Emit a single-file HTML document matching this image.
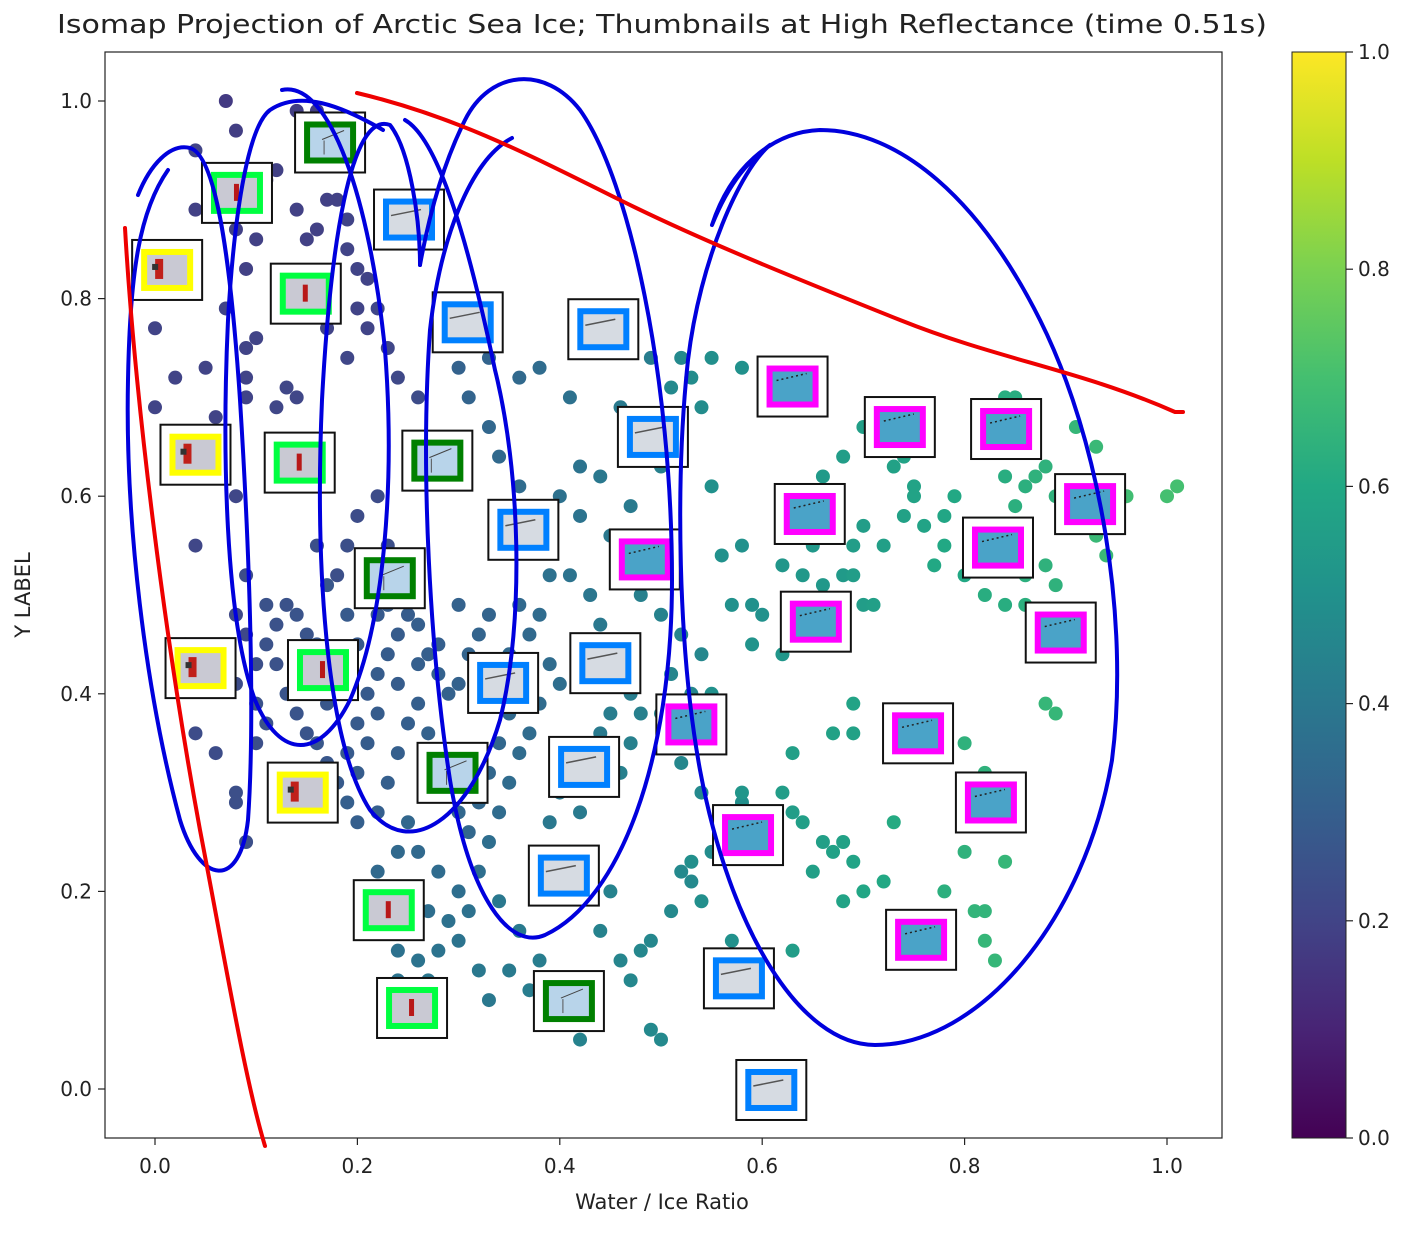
<!DOCTYPE html>
<html><head><meta charset="utf-8">
<style>
body{margin:0;background:#fff;}
svg text{font-family:"DejaVu Sans","Liberation Sans",sans-serif;fill:#222;}
</style></head>
<body>
<svg id="chart" width="1419" height="1229" xmlns="http://www.w3.org/2000/svg">
<defs>
<linearGradient id="vir" x1="0" y1="1" x2="0" y2="0">
<stop offset="0" stop-color="#440154"/><stop offset="0.1" stop-color="#482475"/><stop offset="0.2" stop-color="#414487"/><stop offset="0.3" stop-color="#355f8d"/><stop offset="0.4" stop-color="#2a788e"/><stop offset="0.5" stop-color="#21918c"/><stop offset="0.6" stop-color="#22a884"/><stop offset="0.7" stop-color="#44bf70"/><stop offset="0.8" stop-color="#7ad151"/><stop offset="0.9" stop-color="#bddf26"/><stop offset="1" stop-color="#fde725"/>
</linearGradient>
<clipPath id="plotclip"><rect x="105" y="52" width="1117" height="1086"/></clipPath>
</defs>
<text x="662" y="33" text-anchor="middle" font-size="26" textLength="1210" lengthAdjust="spacingAndGlyphs">Isomap Projection of Arctic Sea Ice; Thumbnails at High Reflectance (time 0.51s)</text>
<g id="points" clip-path="url(#plotclip)"></g>
<g id="thumbs"></g>
<rect x="105" y="52" width="1117" height="1086" fill="none" stroke="#222" stroke-width="1.2"/>
<g id="xticks"></g><g id="yticks"></g>
<text x="662" y="1209" text-anchor="middle" font-size="21">Water / Ice Ratio</text>
<text x="0" y="0" transform="translate(30,595) rotate(-90)" text-anchor="middle" font-size="21">Y LABEL</text>
<rect x="1292" y="52" width="54" height="1086" fill="url(#vir)" stroke="#222" stroke-width="1"/>
<g id="cticks"></g>
<g fill="none" stroke-width="4" stroke-linecap="round">
<path stroke="#0000dd" d="M138,195 C150,165 170,143 190,148 C215,155 230,250 240,400 C250,560 255,720 248,820 C240,890 200,885 180,820 C145,690 125,520 128,380 C130,270 140,210 168,170"/>
<path stroke="#0000dd" d="M282,90 C330,80 370,200 385,350 C395,480 385,620 350,700 C320,760 280,760 255,700 C225,620 222,450 228,320 C235,200 250,125 270,110 C300,90 340,105 383,130"/>
<path stroke="#0000dd" d="M420,265 C420,220 410,150 390,125 C350,110 330,250 322,400 C315,560 325,740 370,810 C410,860 470,820 500,720 C525,620 520,470 495,370 C470,250 440,140 405,120"/>
<path stroke="#0000dd" d="M512,138 C470,160 440,240 430,330 C420,470 430,650 450,780 C470,900 510,950 545,935 C620,900 672,760 672,580 C672,380 630,180 580,110 C545,65 490,70 465,120 C445,160 430,210 420,265"/>
<path stroke="#0000dd" d="M712,225 C730,180 750,160 770,145 M770,145 C740,170 700,260 688,360 C675,480 678,650 700,770 C730,930 800,1045 875,1045 C980,1045 1085,920 1112,760 C1130,620 1100,440 1040,320 C980,200 900,130 820,130 C770,132 730,170 712,225"/>
<path stroke="#ee0000" d="M125,228 C135,400 165,640 200,830 C225,960 245,1080 265,1146"/>
<path stroke="#ee0000" d="M357,93 C450,115 520,150 620,200 C700,240 800,280 900,320 C1000,360 1080,370 1175,412 L1183,412"/>
</g>
</svg>
<script>
const pts = [
[.07,1.0,.17],[.08,.97,.18],[.04,.95,.2],[.0,.77,.2],[.02,.72,.2],[.0,.69,.2],[.05,.73,.2],[.09,.72,.2],[.06,.68,.2],[.09,.70,.2],[.03,.62,.2],[.08,.60,.21],[.04,.55,.21],[.08,.48,.22],[.09,.46,.22],[.03,.45,.22],[.02,.44,.22],[.08,.41,.23],[.10,.35,.24],[.08,.30,.24],[.08,.29,.24],[.09,.25,.24],[.04,.36,.23],[.06,.34,.23],[.10,.43,.24],[.09,.52,.23],[.09,.83,.19],[.10,.86,.19],[.08,.87,.19],[.11,.92,.18],[.04,.89,.19],[.07,.79,.2],[.10,.76,.2],[.09,.75,.2],
[.12,.93,.19],[.14,.99,.18],[.16,.99,.18],[.17,.94,.18],[.14,.89,.19],[.15,.86,.19],[.16,.87,.19],[.17,.90,.19],[.18,.90,.19],[.19,.88,.2],[.19,.85,.2],[.20,.83,.2],[.21,.82,.2],[.20,.79,.2],[.21,.77,.2],[.17,.77,.2],[.13,.71,.21],[.14,.70,.21],[.12,.69,.21],[.19,.74,.21],[.22,.79,.21],[.23,.75,.21],[.24,.72,.22],[.26,.70,.23],[.22,.60,.23],[.20,.58,.23],[.23,.55,.24],[.19,.55,.24],[.16,.55,.24],[.18,.52,.24],
[.11,.49,.25],[.12,.47,.25],[.13,.49,.25],[.14,.48,.26],[.15,.46,.26],[.11,.45,.25],[.12,.43,.25],[.13,.40,.26],[.10,.39,.25],[.11,.37,.25],[.14,.38,.26],[.15,.36,.26],[.16,.35,.27],[.17,.33,.27],[.18,.31,.28],[.19,.34,.28],[.20,.37,.28],[.21,.40,.28],[.22,.42,.29],[.23,.44,.29],[.24,.46,.29],[.25,.48,.29],[.22,.48,.28],[.20,.45,.28],[.19,.43,.28],[.18,.40,.27],[.17,.39,.27],[.16,.45,.27],[.17,.51,.27],[.19,.48,.28],[.21,.50,.28],[.23,.49,.29],[.26,.47,.3],[.27,.44,.3],[.28,.42,.31],[.29,.40,.31],[.30,.41,.31],[.31,.44,.32],[.32,.46,.32],[.33,.48,.32],[.30,.49,.31],[.28,.45,.3],[.26,.43,.3],[.24,.41,.29],[.22,.38,.29],[.21,.35,.29],[.20,.32,.29],[.19,.29,.3],[.20,.27,.3],[.22,.28,.3],[.23,.31,.3],[.24,.34,.3],[.25,.37,.3],[.26,.39,.3],[.27,.36,.31],[.28,.34,.31],[.29,.31,.32],[.30,.28,.33],[.31,.26,.33],[.32,.29,.33],[.33,.32,.33],[.34,.35,.33],[.35,.38,.34],[.36,.40,.34],[.34,.41,.33],[.33,.43,.33],[.35,.44,.34],[.37,.46,.34],[.38,.48,.35],[.36,.49,.34],[.39,.43,.35],[.40,.41,.36],[.38,.39,.35],[.37,.36,.35],[.36,.34,.35],[.35,.31,.35],[.34,.28,.35],[.33,.25,.36],[.32,.22,.36],[.30,.20,.36],[.28,.22,.35],[.26,.24,.34],[.25,.27,.33],[.24,.24,.34],[.22,.22,.34],[.23,.20,.35],[.25,.19,.35],[.27,.18,.36],[.29,.17,.37],[.31,.18,.37],[.30,.15,.38],[.28,.14,.38],[.26,.13,.38],[.24,.14,.37],[.24,.11,.38],[.27,.11,.39],[.32,.12,.4],[.33,.09,.4],[.35,.12,.41],[.37,.10,.42],[.38,.13,.42],[.36,.16,.41],[.34,.19,.4],[.39,.20,.41],[.41,.24,.41],[.42,.28,.41],[.40,.30,.4],[.39,.27,.4],[.43,.33,.41],[.44,.36,.41],[.45,.38,.42],[.47,.35,.43],[.46,.32,.43],[.48,.38,.43],[.47,.40,.42],[.46,.43,.41],[.44,.47,.4],[.43,.50,.39],[.41,.52,.38],[.39,.55,.37],[.37,.58,.36],[.36,.61,.35],[.34,.64,.34],[.33,.67,.33],[.31,.70,.32],[.30,.73,.31],[.33,.74,.32],[.36,.72,.34],[.38,.73,.35],[.41,.70,.37],[.42,.63,.38],[.40,.60,.37],[.42,.58,.38],[.39,.52,.37],[.45,.56,.4],[.47,.59,.41],[.44,.62,.4],[.46,.69,.41],[.49,.74,.42],[.50,.63,.43],[.48,.50,.43],[.50,.48,.44],[.52,.46,.45],[.54,.44,.46],[.51,.42,.45],[.53,.40,.46],[.50,.38,.45],[.52,.33,.46],[.54,.30,.47],[.56,.28,.48],[.58,.29,.49],[.55,.24,.48],[.53,.21,.47],[.52,.22,.47],[.51,.18,.47],[.49,.15,.46],[.48,.14,.46],[.46,.13,.45],[.47,.11,.46],[.49,.06,.47],[.50,.05,.47],[.42,.05,.44],[.40,.10,.43],[.44,.16,.44],[.45,.20,.44],
[.56,.54,.5],[.58,.55,.5],[.59,.49,.5],[.60,.48,.5],[.57,.49,.5],[.62,.53,.52],[.64,.52,.53],[.66,.51,.53],[.68,.52,.54],[.69,.55,.55],[.70,.57,.55],[.72,.55,.56],[.74,.58,.57],[.75,.60,.58],[.76,.57,.58],[.78,.58,.59],[.79,.60,.6],[.78,.55,.6],[.77,.53,.6],[.80,.52,.6],[.82,.50,.62],[.84,.49,.62],[.86,.49,.63],[.86,.52,.63],[.88,.53,.64],[.89,.51,.64],[.85,.59,.63],[.86,.61,.63],[.87,.62,.64],[.88,.63,.64],[.89,.60,.64],[.84,.62,.62],[.86,.65,.63],[.84,.70,.62],[.85,.70,.62],[.91,.67,.66],[.93,.65,.67],[.95,.61,.68],[.96,.60,.69],[1.0,.60,.7],[1.01,.61,.7],[.93,.56,.67],[.94,.54,.67],[.88,.39,.66],[.89,.38,.66],[.80,.35,.64],[.82,.32,.64],[.81,.29,.64],[.84,.23,.66],[.80,.24,.64],[.81,.18,.65],[.82,.18,.65],[.82,.15,.66],[.83,.13,.66],[.78,.20,.63],[.73,.27,.61],[.72,.21,.6],[.70,.20,.59],[.69,.23,.58],[.68,.25,.57],[.67,.24,.57],[.66,.25,.56],[.68,.19,.58],[.65,.22,.56],[.64,.27,.56],[.63,.34,.56],[.69,.36,.57],[.67,.36,.57],[.69,.39,.58],[.63,.14,.55],[.63,.28,.55],[.62,.30,.55],[.60,.28,.53],[.58,.30,.52],[.60,.24,.53],[.56,.27,.51],[.54,.19,.49],[.53,.23,.49],[.57,.15,.5],[.57,.12,.5],[.56,.10,.5],[.62,.44,.52],[.64,.46,.53],[.66,.45,.54],[.67,.49,.54],[.70,.49,.55],[.69,.52,.55],[.71,.49,.56],[.65,.55,.53],[.63,.60,.52],[.66,.62,.54],[.68,.64,.55],[.70,.67,.56],[.73,.63,.57],[.74,.64,.58],[.76,.66,.58],[.75,.61,.58],[.55,.40,.5],[.59,.45,.51],[.55,.61,.5],[.55,.74,.49],[.58,.73,.5],[.53,.72,.48],[.52,.74,.47],[.54,.69,.48],[.51,.71,.47]
];
const thumbX = [.173,.081,.012,.251,.149,.309,.443,.630,.736,.841,.492,.040,.143,.279,.924,.647,.833,.364,.484,.232,.653,.895,.045,.166,.445,.344,.530,.754,.294,.424,.146,.826,.586,.404,.231,.757,.254,.409,.577,.609];
const thumbY = [.958,.907,.829,.880,.805,.776,.769,.711,.670,.668,.660,.642,.634,.636,.592,.582,.548,.566,.536,.517,.473,.462,.426,.424,.431,.411,.369,.360,.320,.326,.300,.290,.257,.216,.181,.151,.082,.089,.112,-.001];
const thumbKind = ['dg','lime','yel','blue','lime','blue','blue','mag','mag','mag','blue','yel','lime','dg','mag','mag','mag','blue','mag','dg','mag','mag','yel','lime','blue','blue','mag','mag','dg','blue','yel','mag','mag','blue','lime','mag','lime','dg','blue','blue'];
const xTicks = [0.0,0.2,0.4,0.6,0.8,1.0];
const yTicks = [0.0,0.2,0.4,0.6,0.8,1.0];
const cTicks = [0.0,0.2,0.4,0.6,0.8,1.0];

const NS='http://www.w3.org/2000/svg';
function X(v){return 155+v*1012;}
function Y(v){return 1089-v*988;}
function CY(v){return 1138-v*1086;}
const vstops=[[68,1,84],[72,36,117],[65,68,135],[53,95,141],[42,120,142],[33,145,140],[34,168,132],[68,191,112],[122,209,81],[189,223,38],[253,231,37]];
function viridis(t){t=Math.max(0,Math.min(1,t))*10;const i=Math.min(9,Math.floor(t)),f=t-i;const a=vstops[i],b=vstops[i+1];return 'rgb('+a.map((v,k)=>Math.round(v+(b[k]-v)*f)).join(',')+')';}
function mk(tag,attrs,parent){const e=document.createElementNS(NS,tag);for(const k in attrs)e.setAttribute(k,attrs[k]);parent.appendChild(e);return e;}

const gp=document.getElementById('points');
pts.forEach(p=>{
  const c=mk('circle',{cx:X(p[0]),cy:Y(p[1]),r:7,fill:viridis(p[2])},gp);
  
  
});
const frameCol={dg:'#008000',lime:'#00ff40',yel:'#ffff00',blue:'#0080ff',mag:'#ff00ff'};
const gt=document.getElementById('thumbs');
thumbX.forEach((tx,i)=>{
  const cx=X(tx),cy=Y(thumbY[i]),k=thumbKind[i];
  const g=mk('g',{},gt);
  
  
  mk('rect',{x:cx-35,y:cy-30,width:70,height:60,fill:'#fff',stroke:'#111','stroke-width':2},g);
  const img=(k==='yel'||k==='lime')?'#c9c9d3':(k==='dg'?'#b8d4ea':(k==='blue'?'#d6dbe2':'#4aa3c8'));
  mk('rect',{x:cx-23,y:cy-18,width:46,height:36,fill:img,stroke:frameCol[k],'stroke-width':6},g);
  if(k==='yel'){mk('rect',{x:cx-12,y:cy-11,width:8,height:20,fill:'#c0201a'},g);mk('rect',{x:cx-15,y:cy-6,width:6,height:6,fill:'#333'},g);}
  if(k==='lime'){mk('rect',{x:cx-3,y:cy-9,width:5,height:17,fill:'#b81818'},g);}
  if(k==='dg'){mk('line',{x1:cx-8,y1:cy-3,x2:cx+14,y2:cy-12,stroke:'#444','stroke-width':1},g);mk('line',{x1:cx-6,y1:cy-2,x2:cx-6,y2:cy+12,stroke:'#555','stroke-width':1},g);}
  if(k==='blue'){mk('line',{x1:cx-18,y1:cy-4,x2:cx+12,y2:cy-10,stroke:'#555','stroke-width':1.5},g);}
  if(k==='mag'){mk('line',{x1:cx-16,y1:cy-6,x2:cx+14,y2:cy-13,stroke:'#222','stroke-width':1.5,'stroke-dasharray':'2 3'},g);}
});
const gx=document.getElementById('xticks');
xTicks.forEach(v=>{
  const l=mk('line',{x1:X(v),y1:1138,x2:X(v),y2:1145,stroke:'#222','stroke-width':1.2},gx);
  
  
  const t=mk('text',{x:X(v),y:1173,'text-anchor':'middle','font-size':20},gx);t.textContent=v.toFixed(1);
  
  
});
const gy=document.getElementById('yticks');
yTicks.forEach(v=>{
  const l=mk('line',{x1:98,y1:Y(v),x2:105,y2:Y(v),stroke:'#222','stroke-width':1.2},gy);
  
  
  const t=mk('text',{x:92,y:Y(v)+7,'text-anchor':'end','font-size':20},gy);t.textContent=v.toFixed(1);
  
  
});
const gc=document.getElementById('cticks');
cTicks.forEach(v=>{
  const l=mk('line',{x1:1346,y1:CY(v),x2:1353,y2:CY(v),stroke:'#222','stroke-width':1.2},gc);
  
  
  const t=mk('text',{x:1358,y:CY(v)+7,'font-size':20},gc);t.textContent=v.toFixed(1);
  
  
});
</script>
</body></html>
